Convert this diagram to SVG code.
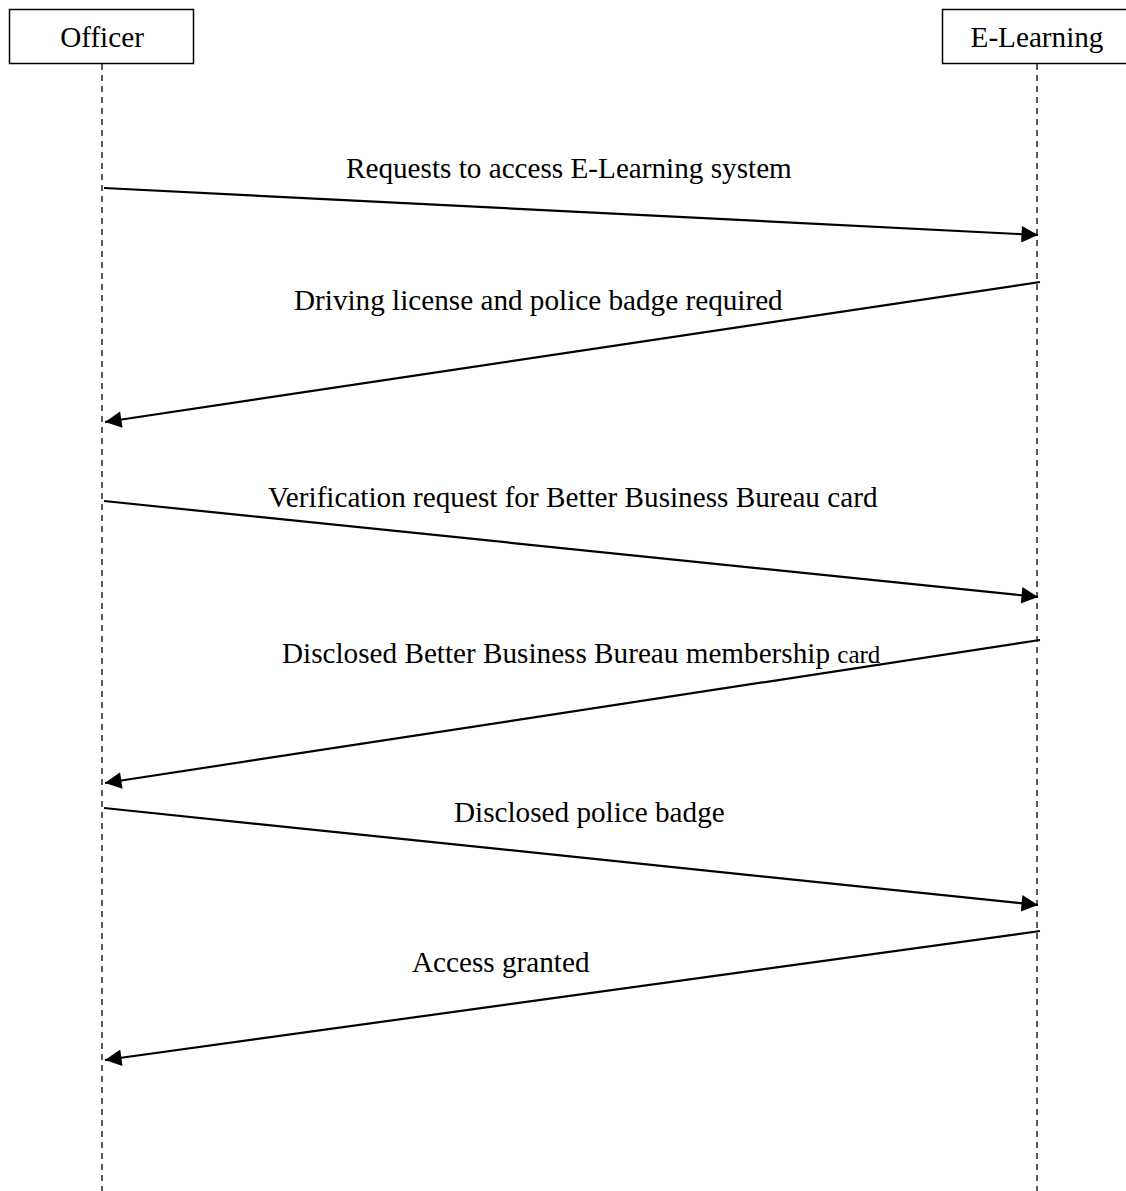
<svg xmlns="http://www.w3.org/2000/svg" width="1126" height="1191" viewBox="0 0 1126 1191">
<style>
.box{fill:#fff;stroke:#000;stroke-width:1.5}
.life{stroke:#000;stroke-width:1.3;stroke-dasharray:6 5;fill:none}
.msg{stroke:#000;stroke-width:2.2;fill:none;marker-end:url(#ah)}
text{font-family:"Liberation Serif","Times New Roman",serif;font-size:29.2px;fill:#000}
</style>
<defs>
<marker id="ah" viewBox="0 0 10 10" refX="10" refY="5" markerWidth="9" markerHeight="7.5" markerUnits="strokeWidth" orient="auto">
<path d="M0,0 L10,5 L0,10 Z" fill="#000"/>
</marker>
</defs>
<g id="officer">
<rect class="box" x="9.5" y="9.5" width="184" height="54"/>
<text x="102" y="47" text-anchor="middle">Officer</text>
</g>
<g id="elearning">
<rect class="box" x="942.5" y="9.5" width="190" height="54"/>
<text x="1037" y="47" text-anchor="middle">E-Learning</text>
</g>
<g id="lifelines">
<line class="life" x1="102" y1="64" x2="102" y2="1191"/>
<line class="life" x1="1037" y1="64" x2="1037" y2="1191"/>
</g>
<g id="connectors">
<line class="msg" x1="104" y1="188" x2="1038" y2="235"/>
<line class="msg" x1="1040" y1="282" x2="105" y2="422"/>
<line class="msg" x1="104" y1="501" x2="1038" y2="597"/>
<line class="msg" x1="1040" y1="640" x2="105" y2="783"/>
<line class="msg" x1="104" y1="808" x2="1038" y2="905"/>
<line class="msg" x1="1040" y1="931" x2="105" y2="1060"/>
</g>
<g id="labels">
<text x="346" y="178">Requests to access E-Learning system</text>
<text x="294" y="310">Driving license and police badge required</text>
<text x="268" y="507">Verification request for Better Business Bureau card</text>
<text x="282" y="663">Disclosed Better Business Bureau membership <tspan font-size="25">card</tspan></text>
<text x="454" y="822">Disclosed police badge</text>
<text x="412" y="972">Access granted</text>
</g>
</svg>
